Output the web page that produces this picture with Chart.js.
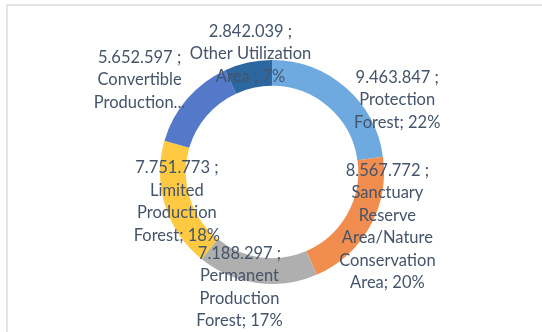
<!DOCTYPE html>
<html>
<head>
<meta charset="utf-8">
<script src="https://cdn.jsdelivr.net/npm/chart.js@4/dist/chart.umd.min.js"></script>
<style>
  html, body { margin: 0; padding: 0; background: #fff; }
  #wrap { position: relative; width: 542px; height: 332px; overflow: hidden; }
  #frame { position: absolute; left: 6px; top: 4px; width: 600px; height: 400px;
           border-top: 2px solid #e2e6eb; border-left: 2px solid #e2e6eb; }
  canvas { position: absolute; left: 0; top: 0; }
</style>
</head>
<body>
<div id="wrap">
  <div id="frame"></div>
  <canvas id="myChart" width="542" height="332"></canvas>
</div>
<script>
const categories = ['Protection Forest', 'Sanctuary Reserve Area/Nature Conservation Area',
    'Permanent Production Forest', 'Limited Production Forest',
    'Convertible Production Forest', 'Other Utilization Area'];
const areas = [9463847, 8567772, 7188297, 7751773, 5652597, 2842039];
// text under the value line of each data label
const labelLines = [
    ['Protection', 'Forest; 22%'],
    ['Sanctuary', 'Reserve', 'Area/Nature', 'Conservation', 'Area; 20%'],
    ['Permanent', 'Production', 'Forest; 17%'],
    ['Limited', 'Production', 'Forest; 18%'],
    ['Convertible', 'Production...'],
    ['Other Utilization', 'Area ; 7%']
];
// top / bottom colour of each slice gradient
const topColors = ['#6eaae0', '#f28d50', '#afafaf', '#ffca42', '#5479c9', '#2d679f'];
const bottomColors = ['#4688c9', '#e5691c', '#8e8e8e', '#f0b400', '#3762bd', '#1b4a7d'];
// label placement: angle offset from slice middle (deg), distance as share of outer radius
const labelAngle = [19, -4, 8, 0, -6, 2];
const labelRadius = [1.29, 1.14, 1.07, 0.89, 1.44, 1.07];

const fmt = v => String(v).replace(/\B(?=(\d{3})+(?!\d))/g, '.');

const sliceFill = function(ctx) {
    const i = ctx.dataIndex;
    const el = ctx.chart.getDatasetMeta(0).data[i];
    if (!el || !el.outerRadius) return topColors[i];
    const p = el.getProps(['x', 'y', 'startAngle', 'endAngle', 'innerRadius', 'outerRadius'], true);
    let minY = Infinity, maxY = -Infinity;
    for (let k = 0; k <= 40; k++) {
        const a = p.startAngle + (p.endAngle - p.startAngle) * k / 40;
        [p.innerRadius, p.outerRadius].forEach(r => {
            const y = p.y + r * Math.sin(a);
            minY = Math.min(minY, y);
            maxY = Math.max(maxY, y);
        });
    }
    if (!(maxY > minY)) return topColors[i];
    const g = ctx.chart.ctx.createLinearGradient(0, minY, 0, maxY);
    g.addColorStop(0, topColors[i]);
    g.addColorStop(1, bottomColors[i]);
    return g;
};

const dataLabels = {
    id: 'dataLabels',
    afterDatasetsDraw(chart) {
        const c = chart.ctx;
        const meta = chart.getDatasetMeta(0);
        c.save();
        c.font = '16.5px Lato, "Open Sans", sans-serif';
        c.fillStyle = '#44546a';
        c.textAlign = 'center';
        c.textBaseline = 'middle';
        const lh = 22.5;
        meta.data.forEach((arc, i) => {
            const mid = (arc.startAngle + arc.endAngle) / 2 + labelAngle[i] * Math.PI / 180;
            const r = arc.outerRadius * labelRadius[i];
            const cx = arc.x + r * Math.cos(mid);
            const cy = arc.y + r * Math.sin(mid);
            const lines = [fmt(areas[i]) + ' ;'].concat(labelLines[i]);
            const y0 = cy - (lines.length - 1) * lh / 2;
            lines.forEach((t, j) => c.fillText(t, cx, y0 + j * lh));
        });
        c.restore();
    }
};

const canvas = document.getElementById('myChart');
new Chart(canvas, {
    type: 'doughnut',
    data: {
        labels: categories,
        datasets: [{
            data: areas,
            backgroundColor: sliceFill,
            borderWidth: 0
        }]
    },
    options: {
        responsive: false,
        animation: false,
        cutout: '77%',
        layout: { padding: { top: 60, bottom: 48, left: 2, right: 0 } },
        plugins: {
            legend: { display: false },
            tooltip: { enabled: false }
        }
    },
    plugins: [dataLabels]
});
</script>
</body>
</html>
